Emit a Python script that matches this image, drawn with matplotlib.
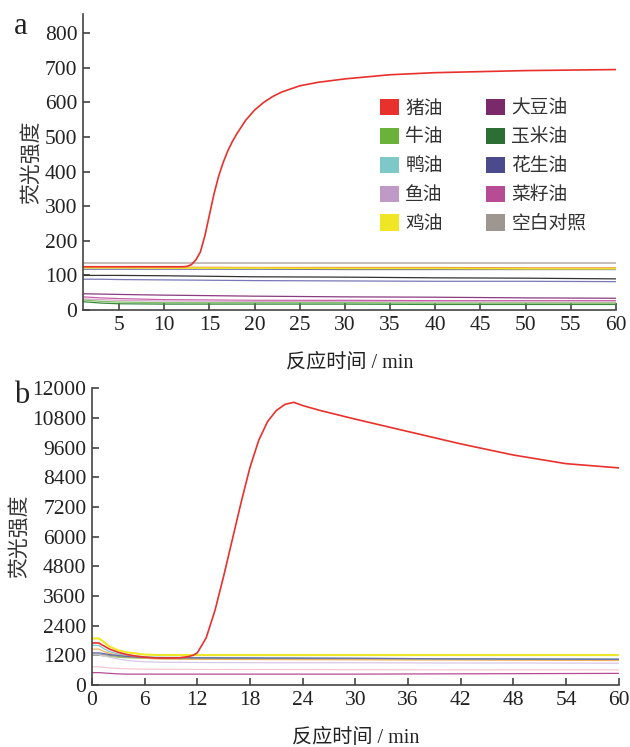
import numpy as np
import matplotlib.pyplot as plt
from matplotlib.patches import Patch

plt.rcParams['font.family'] = ['Liberation Serif', 'Noto Sans CJK SC']
plt.rcParams['axes.unicode_minus'] = False

# ---- legend entries (name, colour) ----
oil_names = ["猪油", "牛油", "鸭油", "鱼油", "鸡油",
             "大豆油", "玉米油", "花生油", "菜籽油", "空白对照"]
oil_colors = ["#e8312c", "#6ab23a", "#7ec8c8", "#c09ac6", "#f0e626",
              "#7a2a6a", "#2d6e35", "#4a4a8c", "#b84c94", "#9e9690"]

# ---- panel a ----
t_lard_a = [1, 5, 10, 12, 12.5, 13, 13.5, 14, 14.5, 15, 15.5, 16, 16.5, 17, 17.5,
            18, 19, 20, 21, 22, 23, 25, 27, 30, 35, 40, 50, 60]
lard_a = [125, 125, 125, 125, 126, 131, 145, 168, 215, 275, 335, 385, 425, 458,
          485, 508, 548, 578, 600, 617, 630, 648, 658, 668, 680, 686, 692, 695]

t_base_a = [1, 3, 5, 10, 20, 30, 40, 50, 60]
blank_a = [137, 137, 137, 137, 137, 137, 137, 137, 137]
orange_a = [124, 124, 124, 124, 123, 123, 123, 122, 122]
chicken_a = [122, 122, 122, 121, 121, 120, 120, 119, 119]
duck_a = [118, 118, 118, 118, 118, 117, 117, 117, 117]
dark_a = [100, 100, 100, 99, 96, 95, 93, 92, 90]
peanut_a = [89, 89, 88, 87, 85, 84, 83, 83, 82]
soy_a = [47, 46, 45, 43, 40, 38, 37, 35, 34]
rape_a = [38, 35, 33, 30, 28, 28, 27, 27, 27]
fish_a = [32, 30, 28, 26, 25, 24, 24, 23, 23]
beef_a = [29, 25, 23, 21, 21, 21, 20, 20, 20]
corn_a = [24, 20, 18, 17, 17, 17, 16, 16, 16]

# ---- panel b ----
t_lard_b = [0, 0.8, 1, 2, 3, 4, 5, 6, 7, 8, 10, 11, 11.5, 12, 13, 14, 15, 16,
            17, 18, 19, 20, 21, 22, 23, 24, 26, 30, 36, 42, 48, 54, 60]
lard_b = [1700, 1700, 1650, 1450, 1320, 1230, 1170, 1130, 1100, 1090, 1100, 1150,
          1200, 1300, 1900, 3000, 4400, 5900, 7400, 8800, 9900, 10650, 11100,
          11350, 11430, 11300, 11100, 10750, 10250, 9750, 9300, 8950, 8780]

t_base_b = [0, 0.8, 1.2, 2, 3, 4, 6, 8, 12, 20, 30, 40, 50, 60]
chicken_b = [1880, 1880, 1780, 1550, 1400, 1320, 1230, 1210, 1210, 1210, 1210, 1210, 1210, 1210]
duck_b = [1600, 1600, 1500, 1350, 1250, 1190, 1140, 1120, 1110, 1100, 1080, 1060, 1050, 1040]
orange_b = [1450, 1450, 1380, 1280, 1200, 1140, 1080, 1050, 1040, 1030, 1020, 1010, 1000, 990]
peanut_b = [1300, 1300, 1280, 1230, 1190, 1150, 1110, 1100, 1100, 1090, 1080, 1060, 1050, 1040]
blank_b = [1250, 1250, 1230, 1200, 1160, 1130, 1100, 1090, 1080, 1070, 1060, 1050, 1040, 1030]
beef_b = [1200, 1200, 1180, 1150, 1120, 1100, 1080, 1070, 1060, 1060, 1050, 1050, 1040, 1040]
fish_b = [1220, 1220, 1190, 1120, 1050, 990, 940, 920, 910, 900, 900, 890, 890, 880]
pink_b = [740, 740, 720, 690, 670, 655, 640, 635, 630, 625, 620, 615, 610, 610]
rape_b = [500, 500, 490, 470, 450, 440, 440, 440, 440, 440, 440, 450, 460, 470]

fig = plt.figure(figsize=(6.3, 7.47), dpi=100)

tick_kw = dict(direction="in", length=5, width=1.1, labelsize=15.5,
               colors="#333333", labelcolor="#222222", pad=4)


def style(ax):
    for s in ["top", "right"]:
        ax.spines[s].set_visible(False)
    for s in ["left", "bottom"]:
        ax.spines[s].set_color("#444444")
        ax.spines[s].set_linewidth(1.2)
    ax.tick_params(**tick_kw)
    ax.set_xlabel("反应时间 / min", fontsize=14.5, color="#222222", labelpad=14)
    ax.set_ylabel("荧光强度", fontsize=15, color="#333333", labelpad=2)


# panel a
ax1 = fig.add_axes([0.1317, 0.585, 0.846, 0.396])
lw = 0.9
ax1.plot(t_base_a, blank_a, color="#b4aea8", lw=1.1)
ax1.plot(t_base_a, orange_a, color="#e89a40", lw=lw)
ax1.plot(t_base_a, duck_a, color="#6a6aa8", lw=lw)
ax1.plot(t_base_a, chicken_a, color=oil_colors[4], lw=1.1)
ax1.plot(t_base_a, dark_a, color="#333333", lw=lw)
ax1.plot(t_base_a, peanut_a, color="#7878b8", lw=lw)
ax1.plot(t_base_a, soy_a, color="#8a3a80", lw=lw)
ax1.plot(t_base_a, rape_a, color="#c860a8", lw=lw)
ax1.plot(t_base_a, fish_a, color="#d8a8d0", lw=lw)
ax1.plot(t_base_a, beef_a, color="#80c060", lw=lw)
ax1.plot(t_base_a, corn_a, color="#3a8a40", lw=lw)
ax1.plot(t_lard_a, lard_a, color=oil_colors[0], lw=1.2)
ax1.set_xlim(1, 60)
ax1.set_ylim(0, 855)
ax1.set_xticks(np.arange(5, 61, 5))
ax1.set_yticks(np.arange(0, 801, 100))
style(ax1)

handles = [Patch(facecolor=c, edgecolor="none") for c in oil_colors]
ax1.legend(handles, oil_names, ncol=2, loc="upper left",
           bbox_to_anchor=(0.54, 0.75), frameon=False, borderpad=0,
           handlelength=1.0, handleheight=0.95, handletextpad=0.35,
           columnspacing=2.3, labelspacing=0.42,
           prop={"family": "Noto Sans CJK SC", "size": 13.5},
           labelcolor="#333333")
fig.text(0.022, 0.965, "a", fontsize=22, color="#222222", va="center")

# panel b
ax2 = fig.add_axes([0.146, 0.083, 0.836, 0.3976])
ax2.plot(t_base_b, blank_b, color="#9e9690", lw=lw)
ax2.plot(t_base_b, beef_b, color="#6ab23a", lw=lw, alpha=0.7)
ax2.plot(t_base_b, orange_b, color="#f0b060", lw=lw)
ax2.plot(t_base_b, duck_b, color=oil_colors[2], lw=lw)
ax2.plot(t_base_b, fish_b, color="#d8c8e8", lw=lw)
ax2.plot(t_base_b, pink_b, color="#f8c8d0", lw=lw)
ax2.plot(t_base_b, rape_b, color=oil_colors[8], lw=lw)
ax2.plot(t_base_b, peanut_b, color="#6a6aa8", lw=lw)
ax2.plot(t_base_b, chicken_b, color=oil_colors[4], lw=1.5)
ax2.plot(t_lard_b, lard_b, color=oil_colors[0], lw=1.2)
ax2.set_xlim(0, 60)
ax2.set_ylim(0, 12010)
ax2.set_xticks(np.arange(0, 61, 6))
ax2.set_yticks(np.arange(0, 12001, 1200))
style(ax2)
fig.text(0.022, 0.47, "b", fontsize=22, color="#222222", va="center")

fig.savefig("out.png", dpi=100, facecolor="white")
